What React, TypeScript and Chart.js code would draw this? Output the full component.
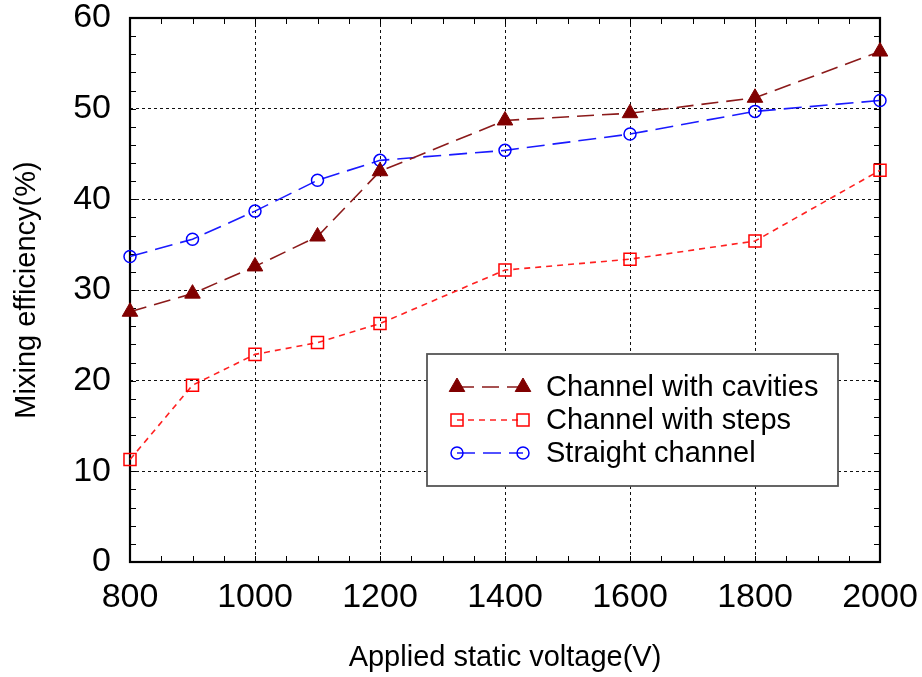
import React, { useEffect, useRef } from "react";
import { Chart, registerables } from "chart.js";

Chart.register(...registerables);

// Applied static voltage (V)
const voltages = [800, 900, 1000, 1100, 1200, 1400, 1600, 1800, 2000];
// Mixing efficiency (%) for each channel design
const cavities = [27.6, 29.6, 32.6, 35.9, 43.1, 48.7, 49.5, 51.2, 56.3];
const steps = [11.3, 19.5, 22.9, 24.2, 26.3, 32.2, 33.4, 35.4, 43.2];
const straight = [33.7, 35.6, 38.7, 42.1, 44.3, 45.4, 47.2, 49.7, 50.9];

const seriesNames = ["Channel with cavities", "Channel with steps", "Straight channel"];

const X_MIN = 800;
const X_MAX = 2000;
const X_STEP = 200;
const X_MINOR = 50;
const Y_MIN = 0;
const Y_MAX = 60;
const Y_STEP = 10;
const Y_MINOR = 2;

const FONT = "'Liberation Sans', Arial, Helvetica, sans-serif";

// Frame around the plot area with inward tick marks on all four sides
const framePlugin = {
  id: "frame",
  beforeDatasetsDraw(chart: any) {
    const { ctx, chartArea: a, scales } = chart;
    const xs = scales.x;
    const ys = scales.y;
    ctx.save();
    ctx.strokeStyle = "#000";
    ctx.lineWidth = 1;
    ctx.beginPath();
    for (let v = X_MIN; v <= X_MAX; v += X_MINOR) {
      const px = Math.round(xs.getPixelForValue(v)) + 0.5;
      ctx.moveTo(px, a.bottom);
      ctx.lineTo(px, a.bottom - 6);
      ctx.moveTo(px, a.top);
      ctx.lineTo(px, a.top + 6);
    }
    for (let v = Y_MIN; v <= Y_MAX; v += Y_MINOR) {
      const py = Math.round(ys.getPixelForValue(v)) + 0.5;
      ctx.moveTo(a.left, py);
      ctx.lineTo(a.left + 6, py);
      ctx.moveTo(a.right, py);
      ctx.lineTo(a.right - 6, py);
    }
    ctx.stroke();
    ctx.lineWidth = 2.2;
    ctx.strokeRect(a.left, a.top, a.right - a.left, a.bottom - a.top);
    ctx.restore();
  },
};

function drawMarker(ctx: CanvasRenderingContext2D, kind: string, r: number, x: number, y: number) {
  ctx.beginPath();
  if (kind === "triangle") {
    let rad = 0;
    ctx.moveTo(x + Math.sin(rad) * r, y - Math.cos(rad) * r);
    rad += (2 * Math.PI) / 3;
    ctx.lineTo(x + Math.sin(rad) * r, y - Math.cos(rad) * r);
    rad += (2 * Math.PI) / 3;
    ctx.lineTo(x + Math.sin(rad) * r, y - Math.cos(rad) * r);
    ctx.closePath();
    ctx.fill();
    ctx.stroke();
  } else if (kind === "rect") {
    const s = Math.SQRT1_2 * r;
    ctx.rect(x - s, y - s, 2 * s, 2 * s);
    ctx.stroke();
  } else {
    ctx.arc(x, y, r, 0, Math.PI * 2);
    ctx.stroke();
  }
}

// Boxed legend: a line sample with a marker at each end, then the label
const legendPlugin = {
  id: "boxLegend",
  afterDatasetsDraw(chart: any) {
    const { ctx } = chart;
    const box = { x: 427, y: 354, w: 411, h: 132 };
    ctx.save();
    ctx.fillStyle = "#fff";
    ctx.fillRect(box.x, box.y, box.w, box.h);
    ctx.strokeStyle = "#555";
    ctx.lineWidth = 1.8;
    ctx.strokeRect(box.x, box.y, box.w, box.h);
    const rowY = [387, 420, 453];
    const x0 = 457;
    const x1 = 523;
    chart.data.datasets.forEach((ds: any, i: number) => {
      const y = rowY[i];
      ctx.save();
      ctx.strokeStyle = ds.borderColor;
      ctx.lineWidth = ds.borderWidth;
      ctx.setLineDash(ds.legendDash);
      ctx.beginPath();
      ctx.moveTo(x0, y);
      ctx.lineTo(x1, y);
      ctx.stroke();
      ctx.restore();
      for (const px of [x0, x1]) {
        ctx.save();
        ctx.strokeStyle = ds.pointBorderColor;
        ctx.fillStyle = ds.pointBackgroundColor;
        ctx.lineWidth = ds.pointBorderWidth;
        drawMarker(ctx, ds.pointStyle, ds.pointRadius, px, y);
        ctx.restore();
      }
      ctx.fillStyle = "#000";
      ctx.font = `29px ${FONT}`;
      ctx.textAlign = "left";
      ctx.textBaseline = "middle";
      ctx.fillText(seriesNames[i], 546, y + 1);
    });
    ctx.restore();
  },
};

export default function App() {
  const canvasRef = useRef<HTMLCanvasElement | null>(null);

  useEffect(() => {
    const canvas = canvasRef.current;
    if (!canvas) return;
    const toPoints = (ys: number[]) => voltages.map((v, i) => ({ x: v, y: ys[i] }));
    const edgeColor = (c: any) =>
      c.tick && (c.tick.value === c.scale.min || c.tick.value === c.scale.max)
        ? "rgba(0,0,0,0)"
        : "#111";

    const chart = new Chart(canvas, {
      type: "line",
      data: {
        datasets: [
          {
            label: seriesNames[0],
            data: toPoints(cavities),
            borderColor: "#8b1a1a",
            borderWidth: 1.6,
            borderDash: [17, 8],
            legendDash: [17, 8],
            pointStyle: "triangle",
            pointRadius: 9,
            pointBorderWidth: 1,
            pointBorderColor: "#800000",
            pointBackgroundColor: "#800000",
            fill: false,
            clip: false,
          } as any,
          {
            label: seriesNames[1],
            data: toPoints(steps),
            borderColor: "#ff2020",
            borderWidth: 1.6,
            borderDash: [6, 5],
            legendDash: [6, 5],
            pointStyle: "rect",
            pointRadius: 8.5,
            pointBorderWidth: 1.5,
            pointBorderColor: "#ff0000",
            pointBackgroundColor: "rgba(0,0,0,0)",
            fill: false,
            clip: false,
          } as any,
          {
            label: seriesNames[2],
            data: toPoints(straight),
            borderColor: "#1a1aff",
            borderWidth: 1.6,
            borderDash: [18, 8],
            legendDash: [18, 8],
            pointStyle: "circle",
            pointRadius: 6,
            pointBorderWidth: 1.5,
            pointBorderColor: "#0000ff",
            pointBackgroundColor: "rgba(0,0,0,0)",
            fill: false,
            clip: false,
          } as any,
        ],
      },
      options: {
        responsive: false,
        animation: false,
        events: [],
        layout: { padding: { left: 0, right: 42, top: 18, bottom: 0 } },
        plugins: {
          legend: { display: false },
          tooltip: { enabled: false },
          title: { display: false },
        },
        scales: {
          x: {
            type: "linear",
            min: X_MIN,
            max: X_MAX,
            afterFit: (s: any) => {
              s.height = 115;
              s.paddingLeft = 0;
              s.paddingRight = 0;
            },
            ticks: {
              stepSize: X_STEP,
              color: "#000",
              padding: 15,
              font: { family: FONT, size: 34 },
              maxRotation: 0,
              autoSkip: false,
              callback: (v: any) => String(v),
            },
            grid: { color: edgeColor, lineWidth: 1, drawTicks: false },
            border: { display: false, dash: [3, 3] },
            title: {
              display: true,
              text: "Applied static voltage(V)",
              color: "#000",
              font: { family: FONT, size: 29 },
              padding: { top: 0, bottom: 2 },
            },
          },
          y: {
            type: "linear",
            min: Y_MIN,
            max: Y_MAX,
            afterFit: (s: any) => {
              s.width = 130;
              s.paddingTop = 0;
              s.paddingBottom = 0;
            },
            ticks: {
              stepSize: Y_STEP,
              color: "#000",
              padding: 19,
              font: { family: FONT, size: 34 },
              callback: (v: any) => String(v),
            },
            grid: { color: edgeColor, lineWidth: 1, drawTicks: false },
            border: { display: false, dash: [3, 3] },
            title: {
              display: true,
              text: "Mixing efficiency(%)",
              color: "#000",
              font: { family: FONT, size: 29 },
              padding: { top: 10, bottom: 0 },
            },
          },
        },
      } as any,
      plugins: [framePlugin, legendPlugin],
    });
    return () => chart.destroy();
  }, []);

  return (
    <div style={{ position: "absolute", left: 0, top: 0, width: 922, height: 677, background: "#fff" }}>
      <canvas ref={canvasRef} width={922} height={677} />
    </div>
  );
}
